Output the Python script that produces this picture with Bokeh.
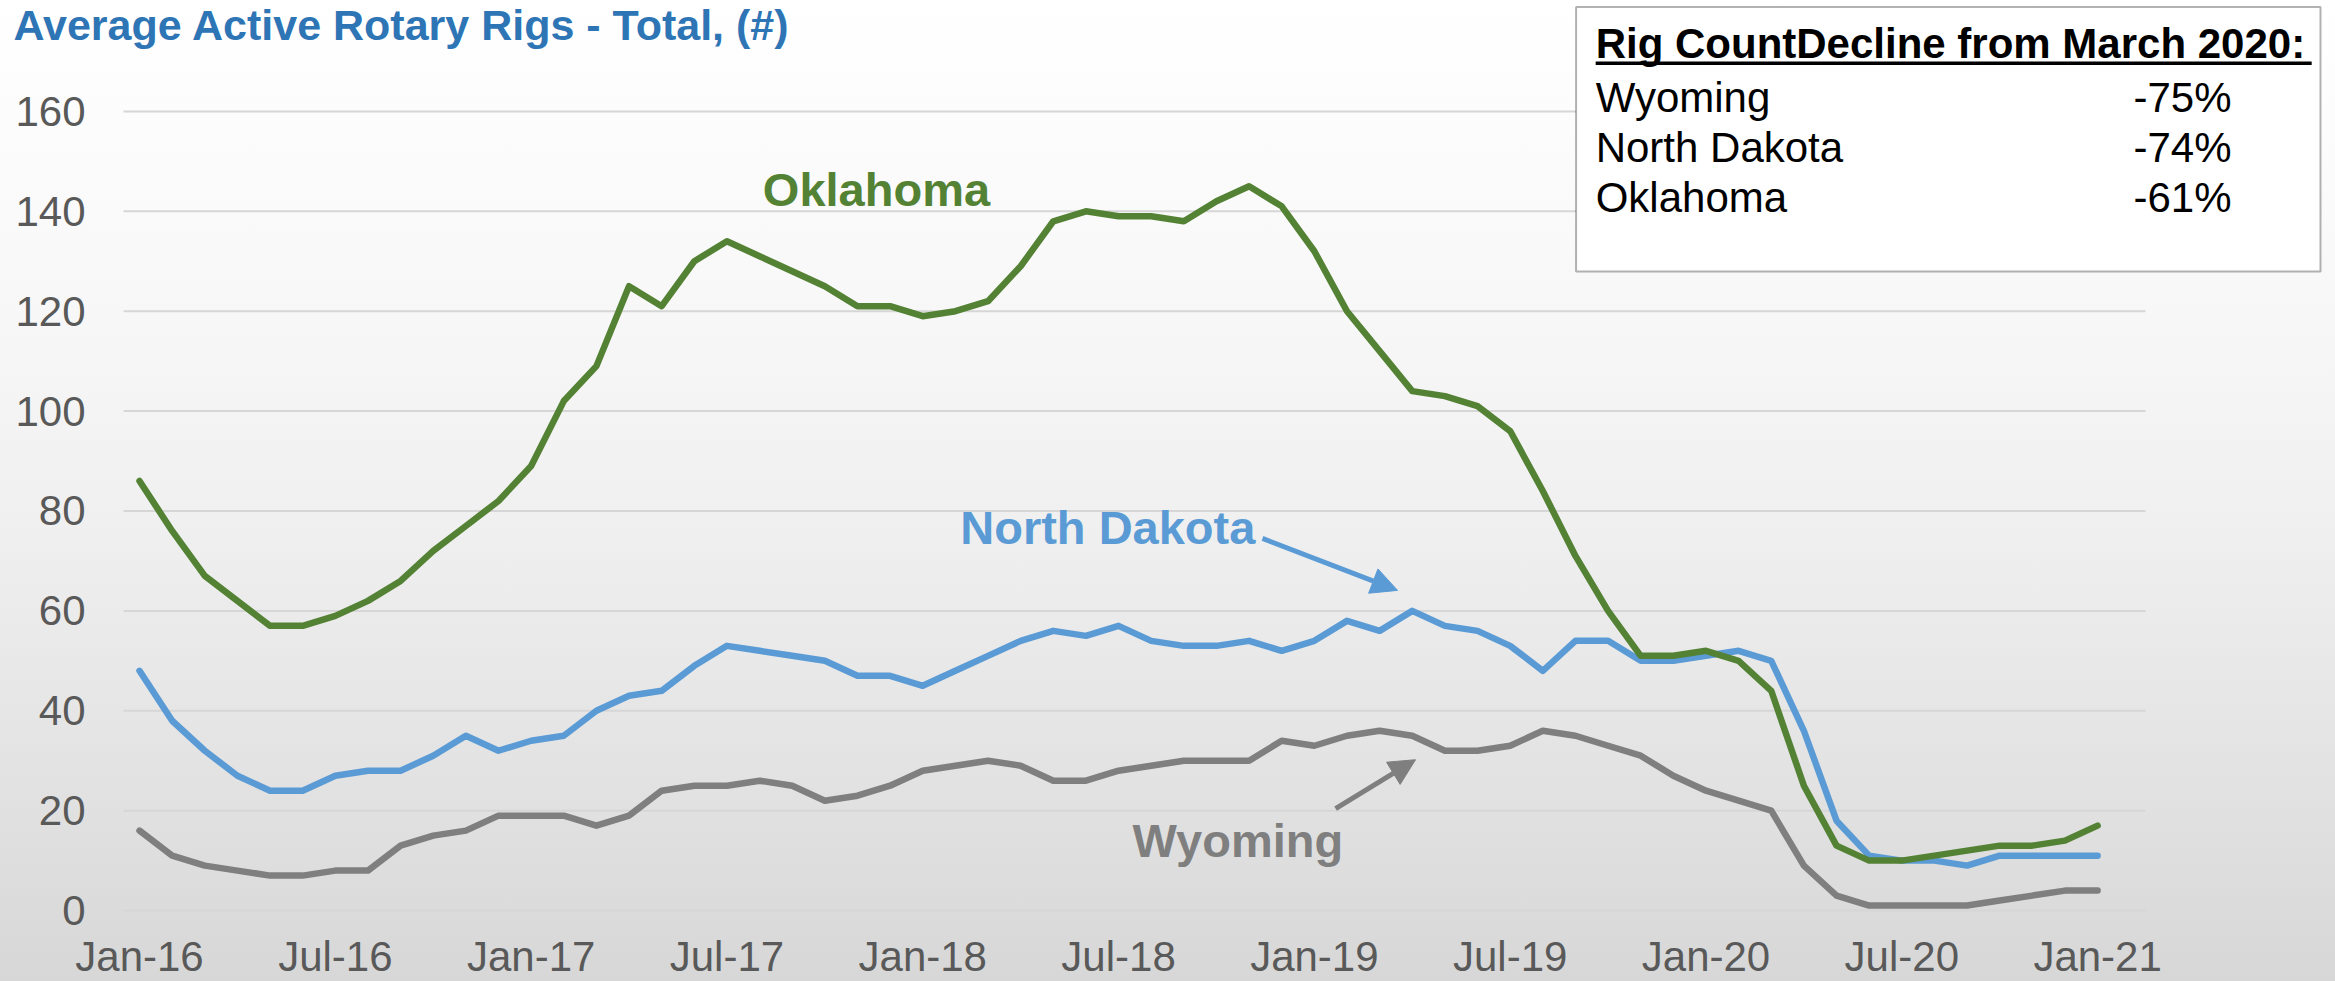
from bokeh.plotting import figure
from bokeh.models import Range1d, Label, Arrow, NormalHead, BoxAnnotation
from bokeh.embed import file_html
from bokeh.resources import INLINE
from bokeh.core.properties import value

# ---------------- data ----------------
months = list(range(61))  # Jan-16 ... Jan-21
tick_months = [0, 6, 12, 18, 24, 30, 36, 42, 48, 54, 60]
tick_labels = ["Jan-16", "Jul-16", "Jan-17", "Jul-17", "Jan-18", "Jul-18",
               "Jan-19", "Jul-19", "Jan-20", "Jul-20", "Jan-21"]
y_ticks = [0, 20, 40, 60, 80, 100, 120, 140, 160]

oklahoma = [86, 76, 67, 62, 57, 57, 59, 62, 66, 72, 77, 82, 89, 102, 109, 125, 121, 130, 134, 131,
            128, 125, 121, 121, 119, 120, 122, 129, 138, 140, 139, 139, 138, 142, 145, 141, 132, 120, 112, 104,
            103, 101, 96, 84, 71, 60, 51, 51, 52, 50, 44, 25, 13, 10, 10, 11, 12, 13, 13, 14, 17]
north_dakota = [48, 38, 32, 27, 24, 24, 27, 28, 28, 31, 35, 32, 34, 35, 40, 43, 44, 49, 53, 52,
                51, 50, 47, 47, 45, 48, 51, 54, 56, 55, 57, 54, 53, 53, 54, 52, 54, 58, 56, 60,
                57, 56, 53, 48, 54, 54, 50, 50, 51, 52, 50, 36, 18, 11, 10, 10, 9, 11, 11, 11, 11]
wyoming = [16, 11, 9, 8, 7, 7, 8, 8, 13, 15, 16, 19, 19, 19, 17, 19, 24, 25, 25, 26,
           25, 22, 23, 25, 28, 29, 30, 29, 26, 26, 28, 29, 30, 30, 30, 34, 33, 35, 36, 35,
           32, 32, 33, 36, 35, 33, 31, 27, 24, 22, 20, 9, 3, 1, 1, 1, 1, 2, 3, 4, 4]

box_header = "Rig CountDecline from March 2020:"
box_states = ["Wyoming", "North Dakota", "Oklahoma"]
box_values = ["-75%", "-74%", "-61%"]

title_text = "Average Active Rotary Rigs - Total, (#)"

# ---------------- style ----------------
GREEN = "#548235"
BLUE = "#5B9BD5"
GRAY = "#7F7F7F"
TITLE_BLUE = "#2E75B6"
TICK_COLOR = "#595959"
FONT = "Liberation Sans"

W, H = 2335, 981

p = figure(width=W, height=H, output_backend="svg", toolbar_location=None,
           x_range=Range1d(-4.26, 67.29), y_range=Range1d(-14.2, 182.2),
           x_axis_location=None, y_axis_location=None,
           min_border_left=0, min_border_right=0, min_border_top=0, min_border_bottom=0)
p.border_fill_color = None
p.background_fill_color = None
p.outline_line_color = None
p.styles = {"background": "linear-gradient(to bottom, #ffffff 0%, #f8f8f8 30%, #f0f0f0 53%, #e1e1e1 82%, #d7d7d7 100%)"}

p.xgrid.visible = False
p.ygrid.visible = False

# horizontal gridlines limited to the data span
gx0 = months[0] - 0.49
gx1 = months[-1] + 1.47
p.segment(x0=[gx0] * len(y_ticks), y0=y_ticks, x1=[gx1] * len(y_ticks), y1=y_ticks,
          line_color="#d6d6d6", line_width=2)

# value-axis labels
p.text(x=[months[0] - 1.655] * len(y_ticks), y=y_ticks, text=[str(v) for v in y_ticks],
       text_align="right", text_baseline="middle", text_font=value(FONT),
       text_font_size="42px", text_color=TICK_COLOR)

# date-axis labels
p.text(x=tick_months, y=[-4.4] * len(tick_months), text=tick_labels,
       text_align="center", text_baseline="top", text_font=value(FONT),
       text_font_size="42px", text_color=TICK_COLOR)

# series
LW = 6.5
p.line(months, wyoming, line_color=GRAY, line_width=LW, line_join="round", line_cap="round")
p.line(months, north_dakota, line_color=BLUE, line_width=LW, line_join="round", line_cap="round")
p.line(months, oklahoma, line_color=GREEN, line_width=LW, line_join="round", line_cap="round")

# series labels and arrows
p.add_layout(Label(x=19.1, y=149.6, text="Oklahoma", text_font=FONT, text_font_style="bold",
                   text_font_size="47px", text_color=GREEN, text_baseline="top"))
p.add_layout(Label(x=25.15, y=81.9, text="North Dakota", text_font=FONT, text_font_style="bold",
                   text_font_size="47px", text_color=BLUE, text_baseline="top"))
p.add_layout(Label(x=30.43, y=19.4, text="Wyoming", text_font=FONT, text_font_style="bold",
                   text_font_size="47px", text_color=GRAY, text_baseline="top"))

p.add_layout(Arrow(x_start=34.41, y_start=74.5, x_end=38.55, y_end=64.1,
                   line_color=BLUE, line_width=5,
                   end=NormalHead(size=26, fill_color=BLUE, line_color=BLUE, line_width=1)))
p.add_layout(Arrow(x_start=36.65, y_start=20.4, x_end=39.10, y_end=30.2,
                   line_color=GRAY, line_width=5,
                   end=NormalHead(size=26, fill_color=GRAY, line_color=GRAY, line_width=1)))

# title
p.add_layout(Label(x=-3.86, y=182.2, text=title_text, text_font=FONT, text_font_style="bold",
                   text_font_size="43px", text_color=TITLE_BLUE, text_baseline="top"))

# summary box
p.add_layout(BoxAnnotation(left=44.02, right=66.83, top=180.9, bottom=127.95,
                           fill_color="white", fill_alpha=1.0, line_color="black", line_width=2))
p.add_layout(Label(x=44.62, y=178.2, text=box_header, text_font=FONT, text_font_style="bold",
                   text_font_size="42px", text_color="black", text_baseline="top"))
p.add_layout(BoxAnnotation(left=44.62, right=66.56, top=170.0, bottom=169.3,
                           fill_color="black", fill_alpha=1.0, line_color=None))
row_y = [167.4, 157.4, 147.4]
for yy, st, val in zip(row_y, box_states, box_values):
    p.add_layout(Label(x=44.62, y=yy, text=st, text_font=FONT, text_font_size="42px",
                       text_color="black", text_baseline="top"))
    p.add_layout(Label(x=61.10, y=yy, text=val, text_font=FONT, text_font_size="42px",
                       text_color="black", text_baseline="top"))

open("out.html", "w").write(file_html(p, INLINE))
